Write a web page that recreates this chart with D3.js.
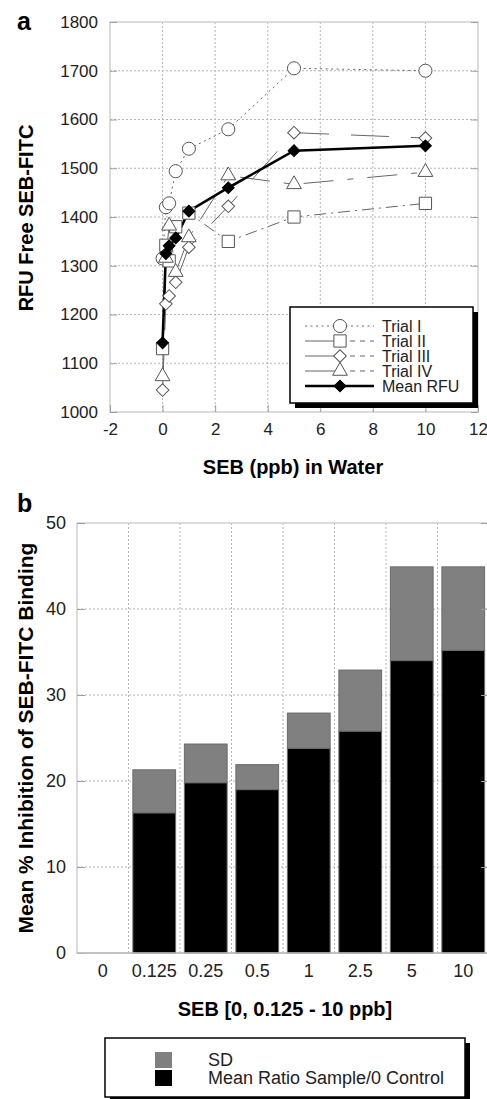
<!DOCTYPE html>
<html>
<head>
<meta charset="utf-8">
<script src="https://cdn.jsdelivr.net/npm/d3@7"></script>
<style>
  body { margin: 0; background: #fff; }
  svg { display: block; font-family: "Liberation Sans", Arial, Helvetica, sans-serif; }
  .grid line { stroke: #b5b5b5; stroke-width: 1; stroke-dasharray: 2,2; }
  .axis path { display: none; }
  .axis line { stroke: #a0a0a0; }
  .axis text { fill: #222; }
</style>
</head>
<body>
<div id="chart"></div>
<script>
// ---- panel a data ----
const doses = [0, 0.125, 0.25, 0.5, 1, 2.5, 5, 10];
const trial1 = [1315, 1420, 1428, 1494, 1540, 1580, 1705, 1700];
const trial2 = [1130, 1342, 1310, 1380, 1408, 1350, 1400, 1428];
const trial3 = [1045, 1222, 1238, 1266, 1338, 1422, 1573, 1562];
const trial4 = [1073, 1316, 1382, 1287, 1358, 1485, 1467, 1492];
const meanRFU = [1142, 1325, 1341, 1357, 1412, 1460, 1536, 1546];
const xTicksA = [-2, 0, 2, 4, 6, 8, 10, 12];
const yTicksA = [1000, 1100, 1200, 1300, 1400, 1500, 1600, 1700, 1800];

// ---- panel b data ----
const categories = ["0", "0.125", "0.25", "0.5", "1", "2.5", "5", "10"];
const meanRatio = [0, 16.3, 19.8, 19.0, 23.8, 25.8, 34.0, 35.2];
const sdValues = [0, 5.0, 4.5, 2.9, 4.1, 7.1, 10.9, 9.7];
const yTicksB = [0, 10, 20, 30, 40, 50];

const svg = d3.select("#chart").append("svg")
  .attr("width", 487)
  .attr("height", 1099);

// ===============================
// Panel a: RFU vs SEB
// ===============================
const x1 = d3.scaleLinear().domain([-2, 12]).range([110, 478]);
const y1 = d3.scaleLinear().domain([1000, 1800]).range([412, 22]);

// grid
svg.append("g").attr("class", "grid")
  .selectAll("line").data(xTicksA.slice(1, -1)).enter().append("line")
  .attr("x1", d => x1(d)).attr("x2", d => x1(d))
  .attr("y1", y1(1800)).attr("y2", y1(1000));
svg.append("g").attr("class", "grid")
  .selectAll("line").data(yTicksA.slice(1, -1)).enter().append("line")
  .attr("x1", x1(-2)).attr("x2", x1(12))
  .attr("y1", d => y1(d)).attr("y2", d => y1(d));

// frame
svg.append("rect")
  .attr("x", x1(-2)).attr("y", y1(1800))
  .attr("width", x1(12) - x1(-2)).attr("height", y1(1000) - y1(1800))
  .attr("fill", "none").attr("stroke", "#cfcfcf").attr("stroke-width", 1.5);

// axes (plain hyphen for negatives, like the original)
const plain = d => String(d);
svg.append("g").attr("class", "axis")
  .attr("transform", `translate(${x1(-2)},0)`)
  .call(d3.axisLeft(y1).tickValues(yTicksA).tickSize(-7).tickPadding(12).tickFormat(plain))
  .selectAll("text").style("font-size", "17px");
svg.append("g").attr("class", "axis")
  .attr("transform", `translate(${x1(12)},0)`)
  .call(d3.axisRight(y1).tickValues(yTicksA).tickSize(-7).tickFormat(""));
svg.append("g").attr("class", "axis")
  .attr("transform", `translate(0,${y1(1000)})`)
  .call(d3.axisBottom(x1).tickValues(xTicksA).tickSize(-7).tickPadding(11).tickFormat(plain))
  .selectAll("text").style("font-size", "17px");

// series
const series = [
  { name: "Trial I", values: trial1, shape: d3.symbolCircle, size: 135, rot: 0, dash: "2,3.5", fill: "#fff" },
  { name: "Trial II", values: trial2, shape: d3.symbolSquare, size: 150, rot: 0, dash: "12,5,2,5", fill: "#fff" },
  { name: "Trial III", values: trial3, shape: d3.symbolSquare, size: 80, rot: 45, dash: "38,22", fill: "#fff" },
  { name: "Trial IV", values: trial4, shape: d3.symbolTriangle, size: 95, rot: 0, dash: "30,14,6,14", fill: "#fff" },
  { name: "Mean RFU", values: meanRFU, shape: d3.symbolSquare, size: 70, rot: 45, dash: null, fill: "#000" }
];

const line = d3.line().x(d => x1(d[0])).y(d => y1(d[1]));

series.forEach(s => {
  const pts = doses.map((d, i) => [d, s.values[i]]);
  const isMean = s.name === "Mean RFU";
  svg.append("path")
    .datum(pts)
    .attr("d", line)
    .attr("fill", "none")
    .attr("stroke", isMean ? "#000" : "#666")
    .attr("stroke-width", isMean ? 2.6 : 1)
    .attr("stroke-dasharray", s.dash);
});

series.forEach(s => {
  const isMean = s.name === "Mean RFU";
  svg.append("g").selectAll("path")
    .data(doses.map((d, i) => [d, s.values[i]]))
    .enter().append("path")
    .attr("transform", d => `translate(${x1(d[0])},${y1(d[1])}) rotate(${s.rot})`)
    .attr("d", d3.symbol().type(s.shape).size(s.size))
    .attr("fill", s.fill)
    .attr("stroke", isMean ? "#000" : "#555")
    .attr("stroke-width", 1);
});

// legend a
const legA = { x: 290, y: 307, w: 183, h: 96 };
svg.append("rect")
  .attr("x", legA.x + 5).attr("y", legA.y + 5)
  .attr("width", legA.w).attr("height", legA.h)
  .attr("fill", "#000");
svg.append("rect")
  .attr("x", legA.x).attr("y", legA.y)
  .attr("width", legA.w).attr("height", legA.h)
  .attr("fill", "#fff").attr("stroke", "#000").attr("stroke-width", 1.5);

series.forEach((s, i) => {
  const cy = 326 + i * 15;
  const isMean = s.name === "Mean RFU";
  const g = svg.append("g");
  g.append("line")
    .attr("x1", 305).attr("x2", 340).attr("y1", cy).attr("y2", cy)
    .attr("stroke", isMean ? "#000" : "#666")
    .attr("stroke-width", isMean ? 2.4 : 1)
    .attr("stroke-dasharray", s.name === "Trial I" ? s.dash : null);
  g.append("line")
    .attr("x1", 340).attr("x2", 374).attr("y1", cy).attr("y2", cy)
    .attr("stroke", isMean ? "#000" : "#666")
    .attr("stroke-width", isMean ? 2.4 : 1)
    .attr("stroke-dasharray", s.name === "Trial I" ? s.dash : (isMean ? null : "5,5"));
  g.append("path")
    .attr("transform", `translate(340,${cy}) rotate(${s.rot})`)
    .attr("d", d3.symbol().type(s.shape).size(s.size))
    .attr("fill", s.fill)
    .attr("stroke", isMean ? "#000" : "#555");
  g.append("text")
    .attr("x", 382).attr("y", cy).attr("dy", "0.35em")
    .style("font-size", "16px").style("fill", "#222")
    .text(s.name);
});

// labels a
svg.append("text")
  .attr("x", 17).attr("y", 30)
  .style("font-size", "25px").style("font-weight", "700")
  .text("a");
svg.append("text")
  .attr("transform", "translate(33,218) rotate(-90)")
  .attr("text-anchor", "middle")
  .style("font-size", "20px").style("font-weight", "700")
  .text("RFU Free SEB-FITC");
svg.append("text")
  .attr("x", 293).attr("y", 474)
  .attr("text-anchor", "middle")
  .style("font-size", "20px").style("font-weight", "700")
  .text("SEB (ppb) in Water");

// ===============================
// Panel b: % inhibition bars
// ===============================
const x2 = d3.scaleBand().domain(categories).range([77, 489]).paddingInner(0.17).paddingOuter(0.085);
const y2 = d3.scaleLinear().domain([0, 50]).range([953, 523]);
const step = x2.step();

svg.append("g").attr("class", "grid")
  .selectAll("line").data(categories.slice(1)).enter().append("line")
  .attr("x1", d => x2(d) - step * 0.085).attr("x2", d => x2(d) - step * 0.085)
  .attr("y1", y2(50)).attr("y2", y2(0));
svg.append("g").attr("class", "grid")
  .selectAll("line").data(yTicksB.slice(1, -1)).enter().append("line")
  .attr("x1", 77).attr("x2", 489)
  .attr("y1", d => y2(d)).attr("y2", d => y2(d));

svg.append("rect")
  .attr("x", 77).attr("y", y2(50))
  .attr("width", 412).attr("height", y2(0) - y2(50))
  .attr("fill", "none").attr("stroke", "#cfcfcf").attr("stroke-width", 1.5);

const barData = categories.map((c, i) => ({ cat: c, mean: meanRatio[i], sd: sdValues[i] }));
const stacked = d3.stack().keys(["mean", "sd"])(barData);
const barColors = { mean: "#000", sd: "#808080" };

svg.append("g").selectAll("g")
  .data(stacked).enter().append("g")
  .attr("fill", d => barColors[d.key])
  .selectAll("rect")
  .data(d => d.filter(p => p[1] > p[0]))
  .enter().append("rect")
  .attr("x", d => x2(d.data.cat))
  .attr("width", x2.bandwidth())
  .attr("y", d => y2(d[1]))
  .attr("height", d => y2(d[0]) - y2(d[1]))
  .attr("stroke", "#6a6a6a")
  .attr("stroke-width", 1);

svg.append("g").attr("class", "axis")
  .attr("transform", "translate(77,0)")
  .call(d3.axisLeft(y2).tickValues(yTicksB).tickSize(-8).tickPadding(11))
  .selectAll("text").style("font-size", "18px");
svg.append("g").attr("class", "axis")
  .attr("transform", "translate(489,0)")
  .call(d3.axisRight(y2).tickValues(yTicksB).tickSize(-8).tickFormat(""));
svg.append("g").attr("class", "axis")
  .attr("transform", `translate(0,${y2(0)})`)
  .call(d3.axisBottom(x2).tickSize(0).tickPadding(11))
  .selectAll("text").style("font-size", "18px");
svg.append("line")
  .attr("x1", 77).attr("x2", 489).attr("y1", y2(0)).attr("y2", y2(0))
  .attr("stroke", "#bbb").attr("stroke-width", 1.5);

svg.append("text")
  .attr("x", 17).attr("y", 512)
  .style("font-size", "25px").style("font-weight", "700")
  .text("b");
svg.append("text")
  .attr("transform", "translate(33,738) rotate(-90)")
  .attr("text-anchor", "middle")
  .style("font-size", "21px").style("font-weight", "700")
  .text("Mean % Inhibition of SEB-FITC Binding");
svg.append("text")
  .attr("x", 285).attr("y", 1016)
  .attr("text-anchor", "middle")
  .style("font-size", "20px").style("font-weight", "700")
  .text("SEB [0, 0.125 - 10 ppb]");

// legend b
const legB = { x: 105, y: 1038, w: 360, h: 59 };
svg.append("rect")
  .attr("x", legB.x + 5).attr("y", legB.y + 5)
  .attr("width", legB.w).attr("height", legB.h)
  .attr("fill", "#000");
svg.append("rect")
  .attr("x", legB.x).attr("y", legB.y)
  .attr("width", legB.w).attr("height", legB.h)
  .attr("fill", "#fff").attr("stroke", "#000").attr("stroke-width", 1.5);

const legBItems = [
  { label: "SD", color: "#808080" },
  { label: "Mean Ratio Sample/0 Control", color: "#000" }
];
legBItems.forEach((d, i) => {
  const top = 1052 + i * 18;
  svg.append("rect")
    .attr("x", 155).attr("y", top)
    .attr("width", 17).attr("height", 16)
    .attr("fill", d.color);
  svg.append("text")
    .attr("x", 208).attr("y", top + 8).attr("dy", "0.35em")
    .style("font-size", "18px").style("fill", "#222")
    .text(d.label);
});
</script>
</body>
</html>
